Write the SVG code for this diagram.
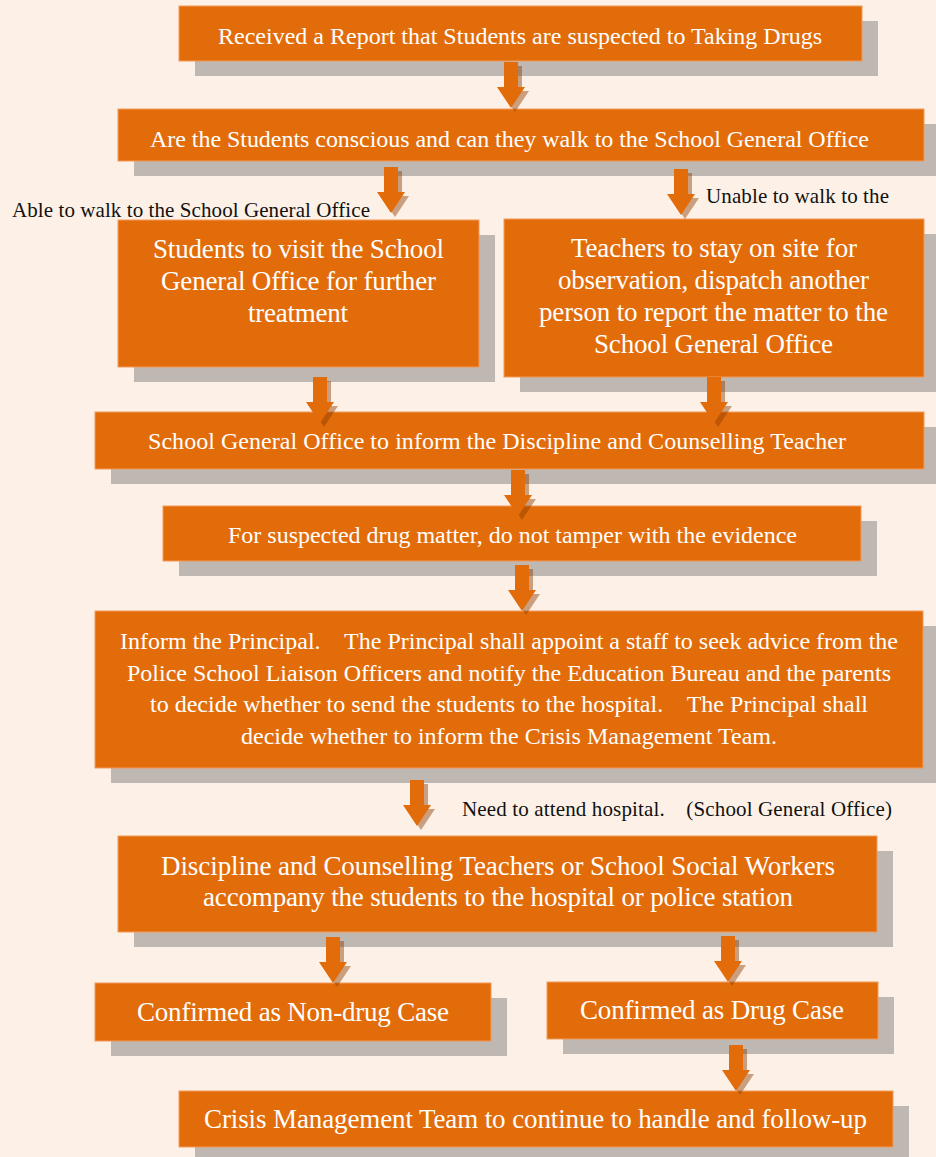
<svg xmlns="http://www.w3.org/2000/svg" width="936" height="1157" viewBox="0 0 936 1157">
<defs>
<style>
.bg{fill:#FDF1E7}
.sh{fill:#BFB7B1}
.box{fill:#E36C0A;stroke:#F29A5A;stroke-width:1}
.t{font-family:"Liberation Serif","Times New Roman",serif;fill:#FFFFFF;white-space:pre}
.t20{font-size:24px}
.t23{font-size:27px}
.lbl{font-family:"Liberation Serif","Times New Roman",serif;font-size:21px;fill:#111111;white-space:pre}
.arr{fill:#E36C0A}
.arrsh{fill:#8C3C00;fill-opacity:0.45}
</style>
<path id="arw" d="M-7,0 H7 V25 H14 L0,46 L-14,25 H-7 Z"/>
</defs>
<rect class="bg" x="0" y="0" width="936" height="1157"/>

<g id="n1">
<rect class="sh" x="195" y="21" width="683" height="55"/>
<rect class="box" x="179" y="6" width="683" height="55"/>
<text class="t t20" x="218" y="44" textLength="604">Received a Report that Students are suspected to Taking Drugs</text>
</g>
<g id="n2">
<rect class="sh" x="134" y="124" width="806" height="52"/>
<rect class="box" x="118" y="109" width="806" height="52"/>
<text class="t t20" x="150" y="147" textLength="719">Are the Students conscious and can they walk to the School General Office</text>
</g>
<g id="n3a">
<rect class="sh" x="134" y="235" width="361" height="147"/>
<rect class="box" x="118" y="220" width="361" height="147"/>
<text class="t t23" x="153" y="258" textLength="291">Students to visit the School</text>
<text class="t t23" x="161" y="290" textLength="275">General Office for further</text>
<text class="t t23" x="248" y="322" textLength="100">treatment</text>
</g>
<g id="n3b">
<rect class="sh" x="520" y="234" width="420" height="158"/>
<rect class="box" x="504" y="219" width="420" height="158"/>
<text class="t t23" x="571" y="257" textLength="286">Teachers to stay on site for</text>
<text class="t t23" x="558" y="289" textLength="311">observation, dispatch another</text>
<text class="t t23" x="539" y="321" textLength="349">person to report the matter to the</text>
<text class="t t23" x="594" y="353" textLength="239">School General Office</text>
</g>
<g id="n4">
<rect class="sh" x="111" y="427" width="829" height="57"/>
<rect class="box" x="95" y="412" width="829" height="57"/>
<text class="t t20" x="148" y="449" textLength="698">School General Office to inform the Discipline and Counselling Teacher</text>
</g>
<g id="n5">
<rect class="sh" x="179" y="521" width="698" height="55"/>
<rect class="box" x="163" y="506" width="698" height="55"/>
<text class="t t20" x="228" y="543" textLength="569">For suspected drug matter, do not tamper with the evidence</text>
</g>
<g id="n6">
<rect class="sh" x="111" y="626" width="828" height="157"/>
<rect class="box" x="95" y="611" width="828" height="157"/>
<text class="t t20" x="120" y="649" textLength="778">Inform the Principal.    The Principal shall appoint a staff to seek advice from the</text>
<text class="t t20" x="127" y="681" textLength="764">Police School Liaison Officers and notify the Education Bureau and the parents</text>
<text class="t t20" x="150" y="712" textLength="718">to decide whether to send the students to the hospital.    The Principal shall</text>
<text class="t t20" x="241" y="744" textLength="536">decide whether to inform the Crisis Management Team.</text>
</g>
<g id="n7">
<rect class="sh" x="134" y="851" width="759" height="96"/>
<rect class="box" x="118" y="836" width="759" height="96"/>
<text class="t t23" x="161" y="875" textLength="674">Discipline and Counselling Teachers or School Social Workers</text>
<text class="t t23" x="203" y="906" textLength="590">accompany the students to the hospital or police station</text>
</g>
<g id="n8a">
<rect class="sh" x="111" y="998" width="396" height="58"/>
<rect class="box" x="95" y="983" width="396" height="58"/>
<text class="t t23" x="137" y="1021" textLength="312">Confirmed as Non-drug Case</text>
</g>
<g id="n8b">
<rect class="sh" x="563" y="997" width="331" height="57"/>
<rect class="box" x="547" y="982" width="331" height="57"/>
<text class="t t23" x="580" y="1019" textLength="264">Confirmed as Drug Case</text>
</g>
<g id="n9">
<rect class="sh" x="195" y="1106" width="714" height="56"/>
<rect class="box" x="179" y="1091" width="714" height="56"/>
<text class="t t23" x="204" y="1128" textLength="663">Crisis Management Team to continue to handle and follow-up</text>
</g>

<g id="labels">
<text class="lbl" x="12" y="217" textLength="358">Able to walk to the School General Office</text>
<text class="lbl" x="706" y="203" textLength="183">Unable to walk to the</text>
<text class="lbl" x="462" y="816" textLength="430">Need to attend hospital.    (School General Office)</text>
</g>

<g id="connectors">
<use href="#arw" class="arrsh" x="515" y="66"/><use href="#arw" class="arr" x="511" y="62"/>
<use href="#arw" class="arrsh" x="395" y="171"/><use href="#arw" class="arr" x="391" y="167"/>
<use href="#arw" class="arrsh" x="685" y="173"/><use href="#arw" class="arr" x="681" y="169"/>
<use href="#arw" class="arrsh" x="324" y="381"/><use href="#arw" class="arr" x="320" y="377"/>
<use href="#arw" class="arrsh" x="718" y="381"/><use href="#arw" class="arr" x="714" y="377"/>
<use href="#arw" class="arrsh" x="522" y="474"/><use href="#arw" class="arr" x="518" y="470"/>
<use href="#arw" class="arrsh" x="526" y="569"/><use href="#arw" class="arr" x="522" y="565"/>
<use href="#arw" class="arrsh" x="421" y="784"/><use href="#arw" class="arr" x="417" y="780"/>
<use href="#arw" class="arrsh" x="337" y="941"/><use href="#arw" class="arr" x="333" y="937"/>
<use href="#arw" class="arrsh" x="732" y="940"/><use href="#arw" class="arr" x="728" y="936"/>
<use href="#arw" class="arrsh" x="740" y="1049"/><use href="#arw" class="arr" x="736" y="1045"/>
</g>
</svg>
